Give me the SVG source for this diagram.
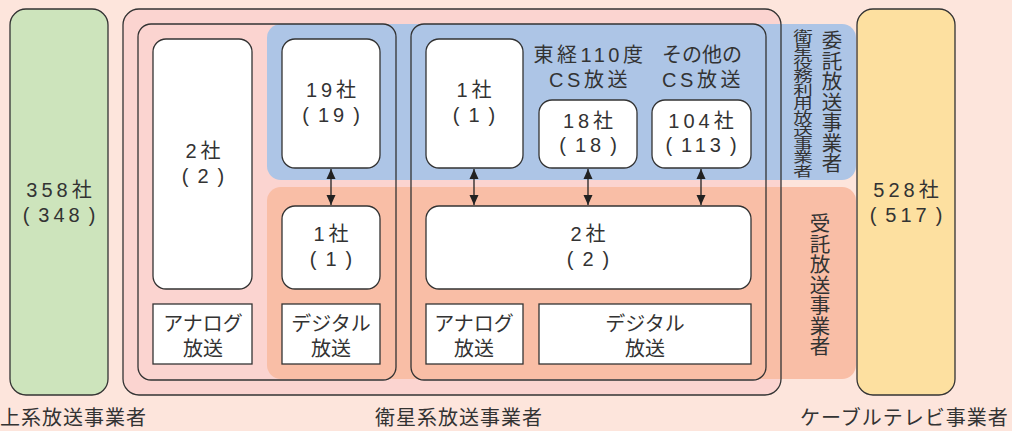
<svg xmlns="http://www.w3.org/2000/svg" width="1012" height="431" viewBox="0 0 1012 431">
<style>
.t{font-family:"Liberation Sans","Noto Sans CJK JP",sans-serif;font-size:20px;fill:#333;text-anchor:middle;letter-spacing:4px}
.lbl{letter-spacing:0}
.cs{letter-spacing:3.5px}
.big{font-family:"Noto Sans CJK JP",sans-serif;font-size:20px;fill:#333;letter-spacing:1px}
.vt{font-family:"Noto Sans CJK JP",sans-serif;fill:#333;writing-mode:vertical-rl}
.box{stroke:#333;stroke-width:1.3}
.node{fill:#fff;stroke:#333;stroke-width:1.3}
.con{stroke:#222;stroke-width:1.3;fill:none;marker-start:url(#ah);marker-end:url(#ah)}
</style>
<defs>
<marker id="ah" markerUnits="userSpaceOnUse" markerWidth="10" markerHeight="10" viewBox="0 0 10 10" refX="10" refY="5" orient="auto-start-reverse">
<path d="M0,0.5 L10,5 L0,9.5 z" fill="#222"/>
</marker>
</defs>
<rect x="0" y="0" width="1012" height="431" fill="#fde5dc"/>
<g id="terrestrial">
<rect class="box" x="10" y="9" width="98" height="386" rx="16" fill="#cde4bc"/>
<text class="t"><tspan x="61" y="197">358社</tspan><tspan x="61" y="222">(<tspan dx="5">348</tspan><tspan dx="5">)</tspan></tspan></text>
</g>
<g id="cable">
<rect class="box" x="857" y="9" width="98" height="386" rx="16" fill="#fde0a0"/>
<text class="t"><tspan x="908" y="197">528社</tspan><tspan x="908" y="222">(<tspan dx="5">517</tspan><tspan dx="5">)</tspan></tspan></text>
</g>
<g id="satellite">
<rect x="123" y="9" width="658" height="386" rx="16" fill="#fbd4d0"/>
<rect x="267" y="24" width="589" height="156" rx="14" fill="#adc5e6"/>
<rect x="267" y="187" width="589" height="192" rx="14" fill="#f9bea6"/>
<rect class="box" x="123" y="9" width="658" height="386" rx="16" fill="none"/>
<rect class="box" x="138" y="24" width="258" height="356" rx="13" fill="none"/>
<rect class="box" x="411" y="24" width="355" height="356" rx="13" fill="none"/>
</g>
<g id="analog-bs">
<rect class="node" x="153" y="39" width="99" height="250" rx="13"/>
<text class="t"><tspan x="205" y="158">2社</tspan><tspan x="205" y="183">(<tspan dx="5">2</tspan><tspan dx="5">)</tspan></tspan></text>
</g>
<g id="analog-bs-label">
<rect class="node" x="153" y="304" width="99" height="60"/>
<text class="t lbl"><tspan x="203" y="331">アナログ</tspan><tspan x="203" y="356">放送</tspan></text>
</g>
<g id="digital-bs-itaku">
<rect class="node" x="282" y="39" width="98" height="129" rx="13"/>
<text class="t"><tspan x="333" y="97">19社</tspan><tspan x="333" y="122">(<tspan dx="5">19</tspan><tspan dx="5">)</tspan></tspan></text>
</g>
<g id="digital-bs-jutaku">
<rect class="node" x="282" y="206" width="98" height="83" rx="13"/>
<text class="t"><tspan x="333" y="241">1社</tspan><tspan x="333" y="266">(<tspan dx="5">1</tspan><tspan dx="5">)</tspan></tspan></text>
</g>
<g id="digital-bs-label">
<rect class="node" x="282" y="304" width="98" height="60"/>
<text class="t lbl"><tspan x="331" y="331">デジタル</tspan><tspan x="331" y="356">放送</tspan></text>
</g>
<g id="analog-cs-itaku">
<rect class="node" x="426" y="39" width="97" height="129" rx="13"/>
<text class="t"><tspan x="476" y="97">1社</tspan><tspan x="476" y="122">(<tspan dx="5">1</tspan><tspan dx="5">)</tspan></tspan></text>
</g>
<g id="cs110">
<text class="t cs"><tspan x="590" y="62">東経110度</tspan><tspan x="590" y="87">CS放送</tspan></text>
<rect class="node" x="539" y="100" width="98" height="68" rx="13"/>
<text class="t"><tspan x="590" y="128">18社</tspan><tspan x="590" y="152">(<tspan dx="5">18</tspan><tspan dx="5">)</tspan></tspan></text>
</g>
<g id="cs-other">
<text class="t cs"><tspan x="702" y="62" letter-spacing="0">その他の</tspan><tspan x="703" y="87">CS放送</tspan></text>
<rect class="node" x="652" y="100" width="99" height="68" rx="13"/>
<text class="t"><tspan x="703" y="128">104社</tspan><tspan x="703" y="152">(<tspan dx="5">113</tspan><tspan dx="5">)</tspan></tspan></text>
</g>
<g id="cs-jutaku">
<rect class="node" x="426" y="206" width="325" height="83" rx="13"/>
<text class="t"><tspan x="590" y="241">2社</tspan><tspan x="590" y="266">(<tspan dx="5">2</tspan><tspan dx="5">)</tspan></tspan></text>
</g>
<g id="analog-cs-label">
<rect class="node" x="426" y="304" width="97" height="60"/>
<text class="t lbl"><tspan x="474" y="331">アナログ</tspan><tspan x="474" y="356">放送</tspan></text>
</g>
<g id="digital-cs-label">
<rect class="node" x="539" y="304" width="212" height="60"/>
<text class="t lbl"><tspan x="645" y="331">デジタル</tspan><tspan x="645" y="356">放送</tspan></text>
</g>
<g id="connectors">
<line class="con" x1="331" y1="169" x2="331" y2="205"/>
<line class="con" x1="474" y1="169" x2="474" y2="205"/>
<line class="con" x1="588" y1="169" x2="588" y2="205"/>
<line class="con" x1="701" y1="169" x2="701" y2="205"/>
</g>
<g id="side-labels">
<text class="vt" x="832" y="30" font-size="20.5">委託放送事業者</text>
<text class="vt" x="803" y="29" font-size="13.5" transform="translate(803 0) scale(1.45 1) translate(-803 0)">衛星役務利用放送事業者</text>
<text class="vt" x="820" y="213" font-size="20.5">受託放送事業者</text>
</g>
<g id="bottom-labels">
<text class="big" x="0" y="425">上系放送事業者</text>
<text class="big" x="459" y="425" text-anchor="middle">衛星系放送事業者</text>
<text class="big" x="800" y="425">ケーブルテレビ事業者</text>
</g>
</svg>
